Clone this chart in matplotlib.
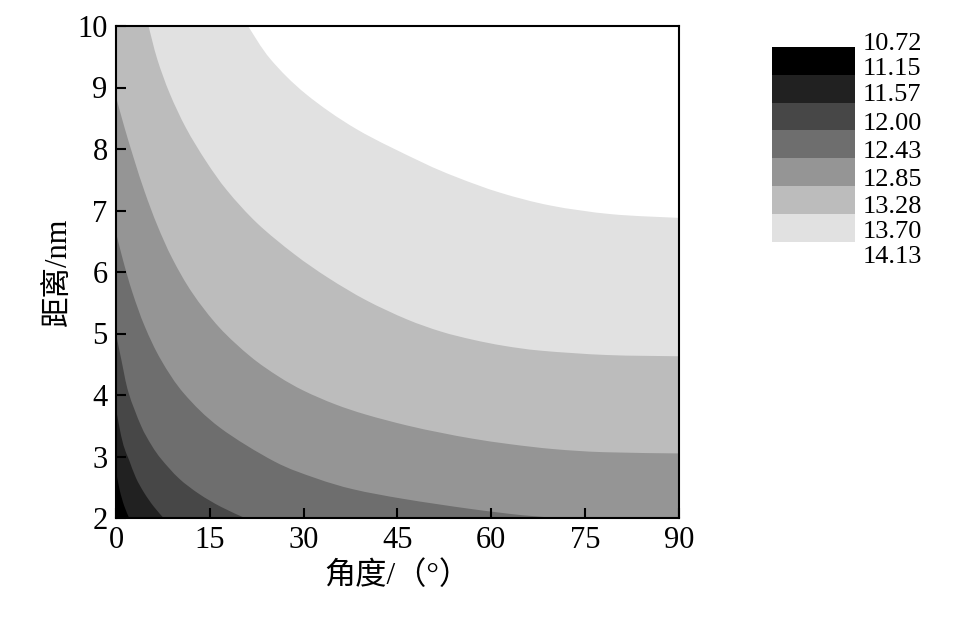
import matplotlib
matplotlib.use("Agg")
import matplotlib.pyplot as plt
from matplotlib.path import Path
from matplotlib.patches import PathPatch

plt.rcParams['font.family'] = ['Liberation Serif', 'Noto Sans CJK SC']
plt.rcParams['axes.unicode_minus'] = False

# ---------------- data ----------------
levels = [10.72, 11.15, 11.57, 12.00, 12.43, 12.85, 13.28, 13.70, 14.13]
level_labels = ["10.72", "11.15", "11.57", "12.00", "12.43", "12.85", "13.28", "13.70", "14.13"]
band_colors = ["#000000", "#212121", "#474747", "#6e6e6e", "#959595", "#bcbcbc", "#e1e1e1", "#ffffff"]

x_ticks = [0, 15, 30, 45, 60, 75, 90]
y_ticks = [2, 3, 4, 5, 6, 7, 8, 9, 10]

# iso-lines (angle in degrees, distance in nm)
b_1115_x = [0.0, 0.6, 1.3, 2.1]
b_1115_y = [2.76, 2.45, 2.20, 2.00]

b_1157_x = [0.0, 0.5, 1.2, 2.1, 3.2, 4.5, 6.0, 7.6]
b_1157_y = [3.78, 3.50, 3.18, 2.94, 2.65, 2.41, 2.19, 2.00]

b_1200_x = [0.0, 0.9, 2.0, 4.0, 5.7, 7.3, 10.1, 13.3, 16.8, 20.6]
b_1200_y = [5.00, 4.55, 4.04, 3.50, 3.18, 2.95, 2.64, 2.39, 2.18, 2.00]

b_1243_x = [0.0, 1.1, 2.6, 4.6, 7.2, 10.9, 16.6, 25.3, 32.0, 38.0, 46.0, 56.5, 65.0, 71.0]
b_1243_y = [6.64, 6.20, 5.675, 5.115, 4.57, 4.02, 3.47, 2.92, 2.645, 2.465, 2.31, 2.15, 2.045, 2.00]

b_1285_x = [0.0, 1.3, 2.9, 4.6, 6.6, 9.0, 12.2, 16.5, 21.5, 26.0, 30.0, 35.0, 40.0, 46.5, 52.0, 57.0, 63.0, 70.0, 78.0, 90.0]
b_1285_y = [8.85, 8.37, 7.83, 7.30, 6.76, 6.22, 5.66, 5.10, 4.625, 4.30, 4.07, 3.85, 3.68, 3.505, 3.385, 3.29, 3.20, 3.12, 3.07, 3.05]

b_1328_x = [5.2, 6.6, 8.6, 11.2, 14.4, 17.8, 22.6, 28.5, 34.0, 40.0, 46.5, 52.0, 57.0, 62.0, 68.0, 78.5, 90.0]
b_1328_y = [10.0, 9.46, 8.90, 8.34, 7.80, 7.32, 6.79, 6.29, 5.90, 5.54, 5.23, 5.03, 4.90, 4.80, 4.72, 4.65, 4.63]

b_1370_x = [21.1, 24.7, 30.4, 38.5, 48.8, 54.5, 61.4, 69.5, 79.2, 90.0]
b_1370_y = [10.0, 9.46, 8.89, 8.32, 7.79, 7.54, 7.29, 7.08, 6.94, 6.88]

boundaries = [
    (b_1115_x, b_1115_y),
    (b_1157_x, b_1157_y),
    (b_1200_x, b_1200_y),
    (b_1243_x, b_1243_y),
    (b_1285_x, b_1285_y),
    (b_1328_x, b_1328_y),
    (b_1370_x, b_1370_y),
]

xlabel = "角度/（°）"
ylabel = "距离/nm"


def smooth_region_path(bx, by, xmin, xmax, ymin, ymax):
    """Path through the read points drawn with Catmull-Rom Bezier segments,
    closed along the upper-right part of the plot frame."""
    pts = list(zip(bx, by))
    n = len(pts)
    verts = [pts[0]]
    codes = [Path.MOVETO]
    for i in range(n - 1):
        p0 = pts[i - 1] if i > 0 else pts[i]
        p1 = pts[i]
        p2 = pts[i + 1]
        p3 = pts[i + 2] if i + 2 < n else pts[i + 1]
        c1 = (p1[0] + (p2[0] - p0[0]) / 6.0, p1[1] + (p2[1] - p0[1]) / 6.0)
        c2 = (p2[0] - (p3[0] - p1[0]) / 6.0, p2[1] - (p3[1] - p1[1]) / 6.0)
        verts += [c1, c2, p2]
        codes += [Path.CURVE4] * 3
    if by[-1] <= ymin + 1e-9:
        verts.append((xmax, ymin)); codes.append(Path.LINETO)
    verts.append((xmax, ymax)); codes.append(Path.LINETO)
    if bx[0] <= xmin + 1e-9:
        verts.append((xmin, ymax)); codes.append(Path.LINETO)
    verts.append(pts[0]); codes.append(Path.CLOSEPOLY)
    return Path(verts, codes)


# ---------------- figure ----------------
W, H = 959, 617
fig = plt.figure(figsize=(W / 100, H / 100), dpi=100)
ax = fig.add_axes([116 / W, 1 - 518 / H, (679 - 116) / W, (518 - 26) / H])

xmin, xmax = x_ticks[0], x_ticks[-1]
ymin, ymax = y_ticks[0], y_ticks[-1]
ax.set_xlim(xmin, xmax)
ax.set_ylim(ymin, ymax)

# lowest band covers everything; each higher band is the region beyond its iso-line
ax.fill([xmin, xmax, xmax, xmin], [ymin, ymin, ymax, ymax], color=band_colors[0], lw=0)
for k, (bx, by) in enumerate(boundaries):
    path = smooth_region_path(bx, by, xmin, xmax, ymin, ymax)
    ax.add_patch(PathPatch(path, facecolor=band_colors[k + 1], edgecolor='none', lw=0))

ax.set_xticks(x_ticks)
ax.set_yticks(y_ticks)
ax.tick_params(direction='in', length=7, width=1.5, labelsize=22, pad=6,
               top=False, right=False)
for s in ax.spines.values():
    s.set_linewidth(1.5)
    s.set_zorder(5)

ax.set_xlabel(xlabel, fontsize=22.5, labelpad=4)
ax.set_ylabel(ylabel, fontsize=22, labelpad=3)

# ---------------- legend (colour key) ----------------
cb_top, cb_bot = 46.7, 46.7 + 27.9 * len(band_colors)
cax = fig.add_axes([772 / W, 1 - cb_bot / H, (855 - 772) / W, (cb_bot - cb_top) / H])
cax.set_xlim(0, 1)
cax.set_ylim(len(band_colors), 0)
for i, c in enumerate(band_colors):
    cax.barh(i + 0.5, 1, height=1.0, left=0, color=c, lw=0)
cax.axis('off')
label_pos = [-0.08, 0.80, 1.73, 2.77, 3.78, 4.78, 5.75, 6.64, 7.54]
for lab, yp in zip(level_labels, label_pos):
    cax.text(1.096, yp, lab, fontsize=19, va='center', ha='left', clip_on=False)

fig.savefig("out.png", dpi=100)
